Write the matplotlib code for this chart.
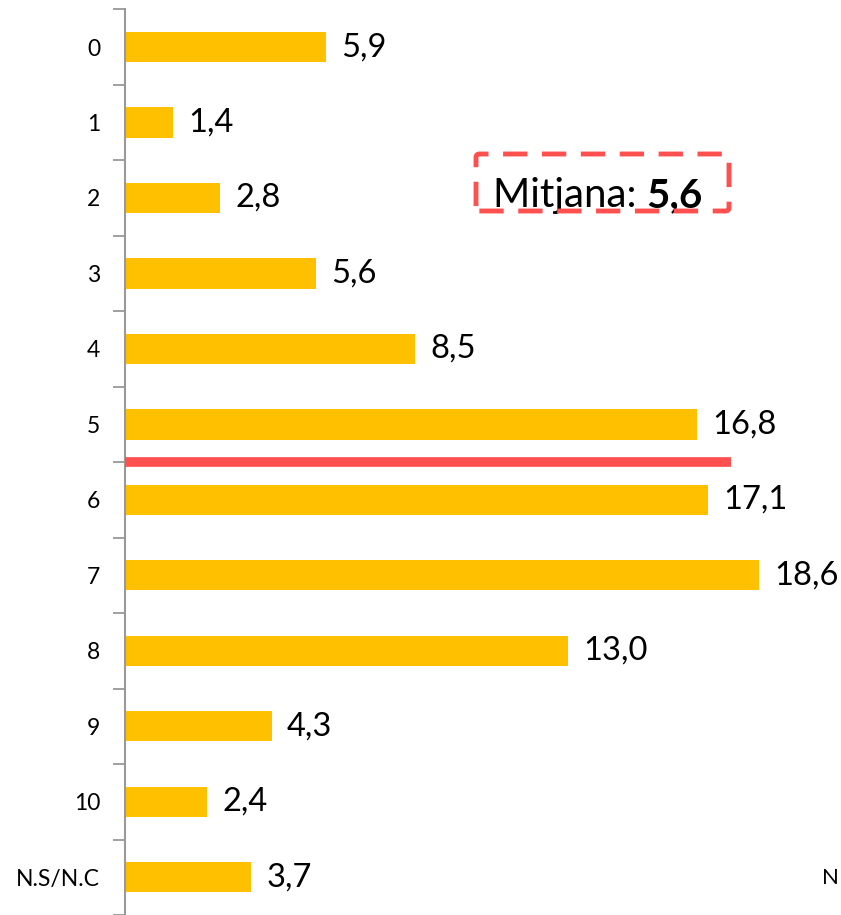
import matplotlib.pyplot as plt
from matplotlib.patches import FancyBboxPatch

plt.rcParams['font.family'] = ['Lato', 'DejaVu Sans']

# data
categories = ["0", "1", "2", "3", "4", "5", "6", "7", "8", "9", "10", "N.S/N.C"]
values = [5.9, 1.4, 2.8, 5.6, 8.5, 16.8, 17.1, 18.6, 13.0, 4.3, 2.4, 3.7]
mean_value = "5,6"
mean_pos = 5.5      # line drawn between 5 and 6
mean_len = 17.8

bar_color = "#FFC000"
red = "#FF5050"

W, H = 841, 915
fig = plt.figure(figsize=(W / 100, H / 100), dpi=100)
ax = fig.add_axes([125 / W, 0, 1 - 125 / W, 1 - 9.3 / H])

pos = list(range(len(categories)))
ax.barh(pos, values, height=0.4, color=bar_color, zorder=2)

for p, v in zip(pos, values):
    ax.text(v + 0.45, p, f"{v:.1f}".replace(".", ","), va="center", ha="left",
            fontsize=23.5, color="black")

# mean line
ax.plot([0, mean_len], [mean_pos, mean_pos], color=red, lw=7, solid_capstyle="butt", zorder=3)

ax.set_xlim(0, (W - 125) / 34.07)
ax.set_ylim((H - 47) / 75.5, -0.5)

ax.set_yticks(pos)
ax.set_yticklabels(categories, fontsize=16.5)
ax.tick_params(axis="y", which="major", length=0, pad=18)
ax.set_yticks([p - 0.5 for p in pos] + [len(pos) - 0.5], minor=True)
ax.tick_params(axis="y", which="minor", length=9, width=1.3, color="#999999", direction="out")
ax.set_xticks([])
for s in ["top", "right", "bottom"]:
    ax.spines[s].set_visible(False)
ax.spines["left"].set_color("#999999")
ax.spines["left"].set_linewidth(1.5)

# dashed box with mean
box = FancyBboxPatch((476 / W, 1 - 211 / H), 253 / W, 57 / H,
                     boxstyle="round,pad=0,rounding_size=0.004",
                     transform=fig.transFigure, fill=False, edgecolor=red,
                     lw=3.5, linestyle=(0, (5, 3)), zorder=5)
fig.patches.append(box)
t1 = fig.text(493 / W, 1 - 207 / H, "Mitjana: ", fontsize=29, ha="left", va="baseline")
ax.annotate(mean_value, xy=(1, 0), xycoords=t1, ha="left", va="bottom",
            fontsize=29, fontweight="bold")

# text at the right edge (cut off in the source)
fig.text(822 / W, 1 - 878 / H, "N", fontsize=16, ha="left", va="center")

fig.savefig("out.png", dpi=100)
